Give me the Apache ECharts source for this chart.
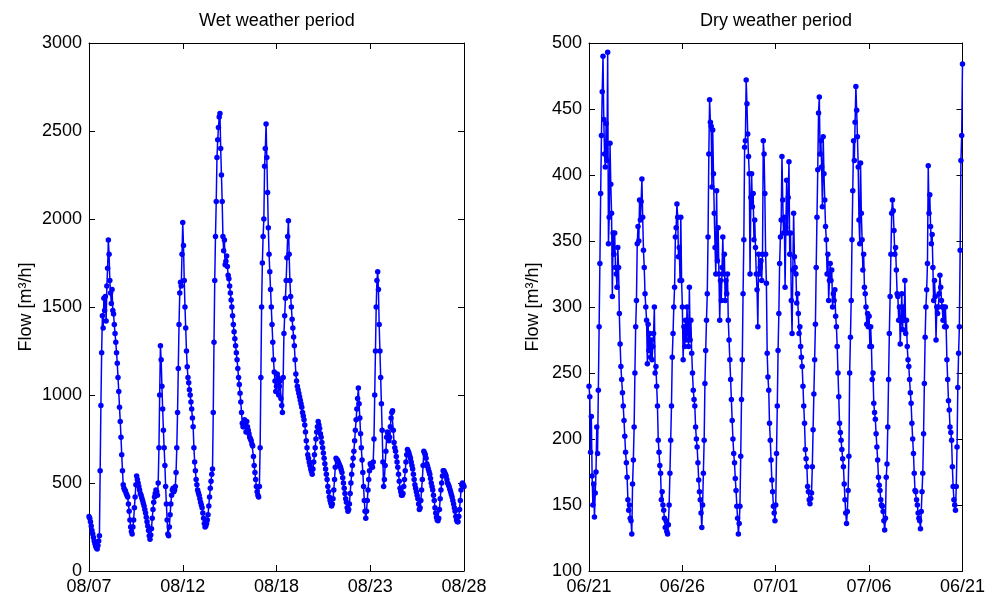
<!DOCTYPE html>
<html><head><meta charset="utf-8">
<script src="https://cdn.jsdelivr.net/npm/echarts@6/dist/echarts.min.js"></script>
<style>html,body{margin:0;padding:0;background:#fff}#c{width:988px;height:601px}</style>
</head><body><div id="c"></div>
<script>
// ---- data (hourly samples) ----
const wetTitle = 'Wet weather period';
const dryTitle = 'Dry weather period';
const yName = 'Flow [m³/h]';
const wetTickLabels = ['08/07','08/12','08/18','08/23','08/28'];
const dryTickLabels = ['06/21','06/26','07/01','07/06','06/21'];
const wetDays = 21;
const dryDays = 20;
const samplesPerDay = 24;
const wetFlow = [
 310,300,280,255,230,210,190,170,155,140,130,125,145,170,200,570,940,1240,1450,1380,1550,1480,1560,1420,
 1620,1720,1880,1800,1650,1580,1520,1600,1480,1460,1400,1350,1300,1240,1180,1100,1020,930,850,760,660,570,490,470,
 460,455,440,430,420,380,340,290,250,225,210,250,290,360,420,490,540,520,500,480,460,440,430,415,
 400,385,370,350,330,305,280,255,230,200,180,205,240,300,350,390,420,440,460,450,430,500,700,1000,
 1280,1200,1050,920,800,700,600,480,380,290,210,200,250,320,380,430,460,470,450,460,480,560,700,900,
 1150,1400,1580,1640,1620,1800,1980,1850,1650,1500,1380,1250,1160,1100,1070,1030,1000,960,920,870,820,700,620,570,
 520,490,460,445,430,410,390,375,360,330,300,270,250,255,270,290,320,370,420,470,510,550,580,900,
 1300,1650,1900,2100,2350,2450,2520,2580,2600,2400,2250,2100,1900,1820,1880,1740,1760,1790,1730,1680,1660,1620,1580,1540,
 1500,1450,1400,1360,1320,1280,1240,1200,1150,1100,1060,1010,960,900,840,820,820,860,830,790,850,820,800,780,
 760,750,740,720,710,650,600,560,520,480,450,430,420,480,700,1100,1500,1750,1900,2000,2300,2400,2540,2350,
 2150,1950,1800,1700,1600,1500,1400,1300,1200,1130,1080,1020,1050,1120,1100,1000,1050,1080,980,940,900,1100,1350,1450,
 1550,1650,1780,1900,1990,1800,1650,1560,1500,1430,1380,1330,1280,1200,1120,1080,1050,1030,1010,990,970,950,930,900,
 880,860,830,790,740,700,660,640,620,600,580,565,550,580,620,660,700,750,790,820,850,830,810,780,
 760,730,700,670,640,610,580,550,520,480,450,420,400,385,370,380,410,460,520,590,640,630,630,620,
 610,600,590,575,560,530,500,470,440,410,390,360,340,350,380,440,500,550,600,640,680,740,800,860,
 920,980,1040,950,870,780,700,630,560,480,400,340,300,340,400,460,520,570,610,600,600,590,620,750,
 1000,1250,1500,1650,1700,1600,1400,1250,1100,950,800,620,480,520,600,680,760,790,780,740,760,820,870,900,
 910,800,730,700,680,650,620,590,550,510,470,450,430,430,440,480,520,570,620,660,690,680,670,655,
 640,620,600,580,550,520,490,470,450,430,410,380,350,360,400,460,520,600,680,670,660,640,610,595,
 580,565,550,525,500,480,460,430,400,360,330,305,290,285,300,350,410,460,500,540,570,570,560,550,
 540,520,500,490,480,465,450,435,420,400,380,360,340,310,290,280,280,310,350,400,460,490,500,490,
 480];
const dryFlow = [
 240,232,190,217,172,150,166,141,159,175,209,189,237,285,333,386,430,463,490,442,416,406,439,411,
 493,348,368,424,393,371,308,356,340,356,330,325,315,345,330,295,272,255,245,235,225,214,202,190,
 182,171,154,146,150,140,138,128,166,184,209,250,285,305,348,361,350,381,366,380,397,368,343,330,
 310,300,290,257,287,267,280,262,275,260,270,280,300,250,255,240,225,199,190,180,174,154,160,150,
 146,140,133,138,130,128,135,150,174,199,225,262,280,300,315,353,360,378,368,338,345,320,368,320,
 300,260,285,270,290,275,300,280,270,315,275,290,265,250,237,230,225,209,200,194,182,169,160,154,
 144,133,150,174,199,242,267,290,310,353,416,457,440,437,391,434,401,371,345,325,388,335,360,325,
 290,320,305,330,353,325,340,305,320,310,325,290,275,260,245,230,214,200,189,182,170,161,149,140,
 128,136,149,187,230,260,310,351,421,426,472,454,431,414,401,325,383,401,376,386,351,366,345,325,
 313,285,340,325,330,335,320,340,426,416,386,340,318,265,247,237,212,199,184,169,160,149,144,138,
 150,189,225,267,295,333,353,366,414,381,356,368,315,360,396,356,383,410,340,356,305,280,328,371,
 338,330,325,303,310,295,280,285,270,262,255,240,225,212,192,185,179,164,160,154,151,155,159,179,
 207,234,260,287,330,368,404,447,459,416,426,406,376,429,401,381,361,351,325,340,305,320,333,320,
 328,300,310,305,313,293,285,270,250,232,212,205,199,192,185,179,166,154,144,136,145,161,187,250,
 277,305,351,388,426,411,440,467,449,429,406,366,348,409,371,351,328,340,315,310,300,287,295,285,
 293,270,285,270,245,250,227,220,215,204,194,184,171,165,161,154,150,149,145,138,131,140,171,181,
 209,245,280,308,340,371,381,373,358,340,345,328,310,308,290,300,272,290,310,283,300,290,320,280,
 290,270,260,255,245,235,227,212,200,189,174,161,160,154,150,144,140,138,132,145,160,174,204,242,
 277,300,313,333,407,371,385,361,348,355,330,305,320,308,275,300,295,300,310,324,315,305,300,290,
 300,285,300,285,260,245,229,222,209,205,199,179,164,154,150,146,164,194,239,265,285,343,411,430,
 484];

// ---- chart ----
const FONT = "'Liberation Sans', Arial, Helvetica, sans-serif";
const FS = 18;
const toPairs = arr => arr.map((v, i) => [i / samplesPerDay, v]);

function xAxes(gridIndex, max, labels) {
  const interval = max / (labels.length - 1);
  const base = {
    type: 'value', gridIndex, min: 0, max, interval,
    axisLine: {show: true, onZero: false, lineStyle: {color: '#000', width: 1}},
    axisTick: {show: true, inside: true, length: 6, lineStyle: {color: '#000'}},
    splitLine: {show: false}
  };
  return [
    Object.assign({}, base, {position: 'bottom',
      axisLabel: {show: true, margin: 7, color: '#000', fontFamily: FONT, fontSize: FS,
        formatter: v => labels[Math.round(v / interval)] || ''}}),
    Object.assign({}, base, {position: 'top', axisLabel: {show: false}})
  ];
}
function yAxes(gridIndex, min, max, interval, nameGap) {
  const base = {
    type: 'value', gridIndex, min, max, interval,
    axisLine: {show: true, onZero: false, lineStyle: {color: '#000', width: 1}},
    axisTick: {show: true, inside: true, length: 6, lineStyle: {color: '#000'}},
    splitLine: {show: false}
  };
  return [
    Object.assign({}, base, {position: 'left',
      name: yName, nameLocation: 'middle', nameRotate: 90, nameGap,
      nameTextStyle: {color: '#000', fontFamily: FONT, fontSize: FS},
      axisLabel: {show: true, margin: 7, color: '#000', fontFamily: FONT, fontSize: FS,
        formatter: v => String(v)}}),
    Object.assign({}, base, {position: 'right', axisLabel: {show: false}})
  ];
}

const lineSeries = (data, xi, yi) => ({
  type: 'line', data, xAxisIndex: xi, yAxisIndex: yi,
  symbol: 'circle', symbolSize: 5.5, showSymbol: true, showAllSymbol: true,
  lineStyle: {color: '#0000ff', width: 1.5},
  itemStyle: {color: '#0000ff'},
  animation: false, silent: true
});

const chart = echarts.init(document.getElementById('c'), null, {renderer: 'canvas'});
chart.setOption({
  backgroundColor: '#fff',
  animation: false,
  grid: [
    {left: 89, top: 43, width: 375, height: 528},
    {left: 589, top: 43, width: 374, height: 528}
  ],
  xAxis: [...xAxes(0, wetDays, wetTickLabels), ...xAxes(1, dryDays, dryTickLabels)],
  yAxis: [...yAxes(0, 0, 3000, 500, 54), ...yAxes(1, 100, 500, 50, 47)],
  series: [
    lineSeries(toPairs(wetFlow), 0, 0),
    lineSeries(toPairs(dryFlow), 2, 2)
  ],
  graphic: [
    {type: 'text', x: 277, y: 21, style: {text: wetTitle, fill: '#000', font: FS + 'px ' + FONT, textAlign: 'center', textVerticalAlign: 'middle'}},
    {type: 'text', x: 776, y: 21, style: {text: dryTitle, fill: '#000', font: FS + 'px ' + FONT, textAlign: 'center', textVerticalAlign: 'middle'}}
  ]
});
</script>
</body></html>
